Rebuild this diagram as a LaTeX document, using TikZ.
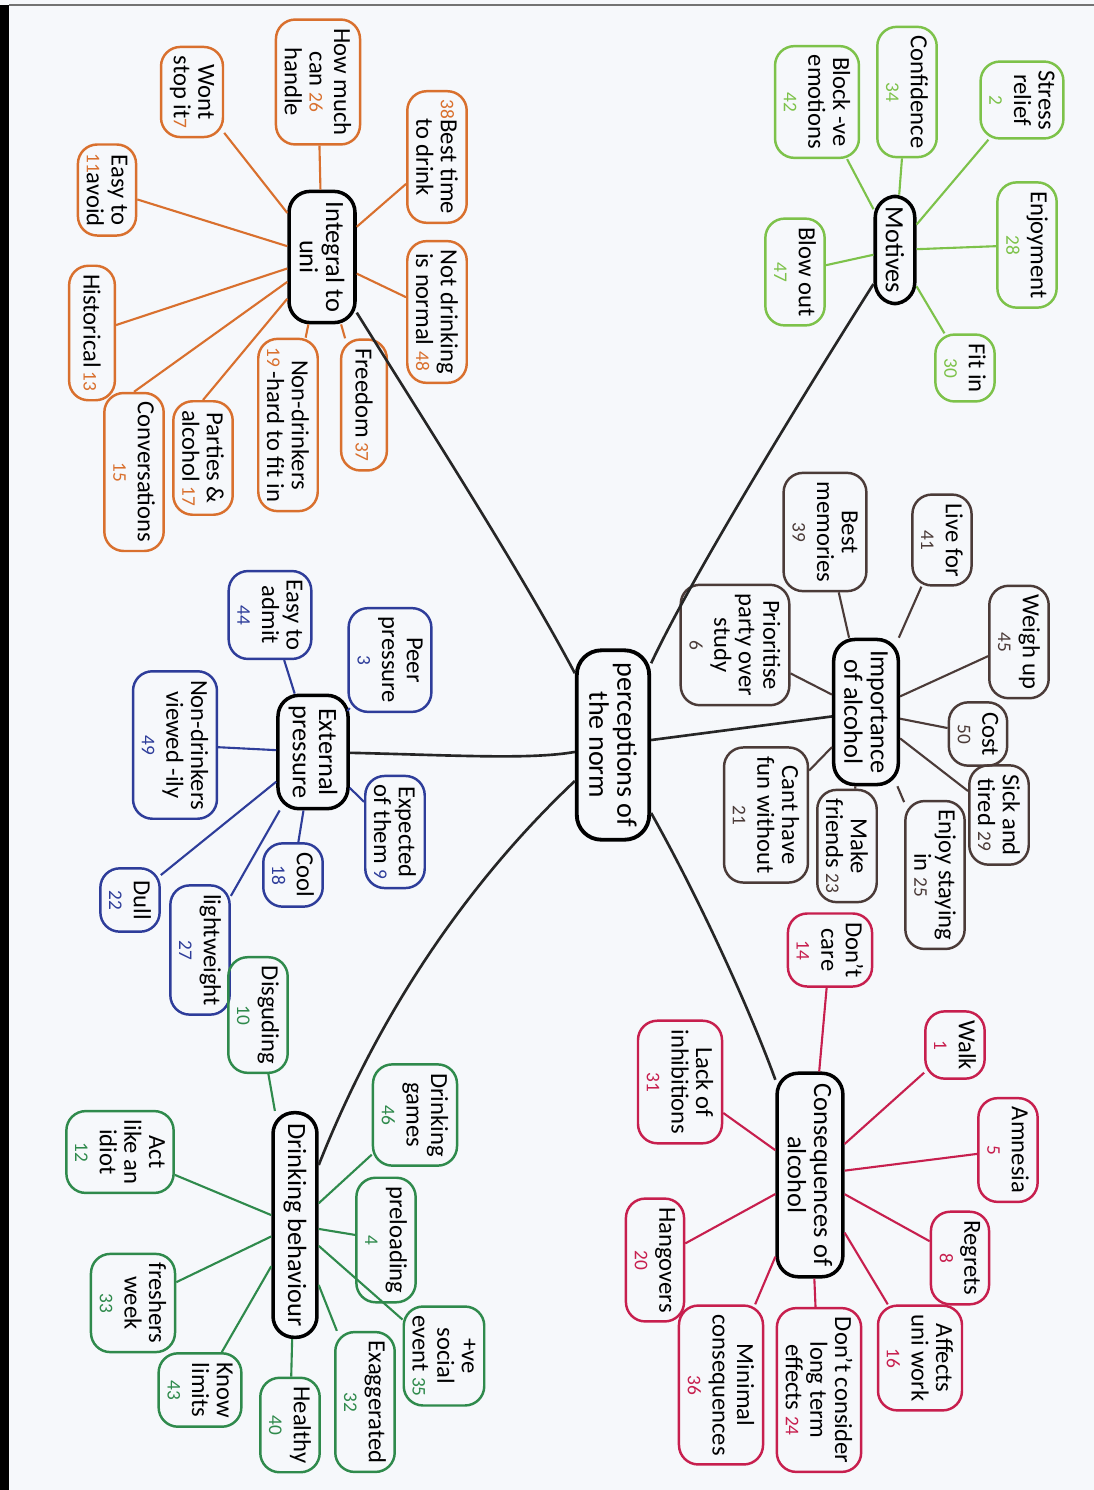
\documentclass[tikz,border=0pt]{standalone}
\usepackage{fontspec}
\setmainfont{Carlito}
\usepackage{xcolor}
\usepackage{tikz}

\definecolor{paper}{HTML}{F6F8FB}
\definecolor{unior}{HTML}{D9702E}
\definecolor{motgr}{HTML}{7DC24A}
\definecolor{impbr}{HTML}{4B3B38}
\definecolor{extbl}{HTML}{2E3D9A}
\definecolor{drkgr}{HTML}{2F8A4C}
\definecolor{conrd}{HTML}{C71F4E}

\newcommand{\numU}[1]{{\color{unior}\fontsize{5.5}{6}\selectfont #1}}
\newcommand{\numM}[1]{{\color{motgr}\fontsize{5.5}{6}\selectfont #1}}
\newcommand{\numI}[1]{{\color{impbr}\fontsize{5.5}{6}\selectfont #1}}
\newcommand{\numE}[1]{{\color{extbl}\fontsize{5.5}{6}\selectfont #1}}
\newcommand{\numD}[1]{{\color{drkgr}\fontsize{5.5}{6}\selectfont #1}}
\newcommand{\numC}[1]{{\color{conrd}\fontsize{5.5}{6}\selectfont #1}}

\begin{document}
\begin{tikzpicture}[x=0.01cm, y=-0.01cm,
  every node/.style={rotate=-90, align=center, font=\fontsize{7}{7}\selectfont},
  norm/.style={draw=black, line width=1.1pt, rounded corners=7pt, inner sep=3.5pt, font=\fontsize{8}{8}\selectfont},
  hub/.style={draw=black, line width=1pt, rounded corners=6pt, inner sep=3pt, font=\fontsize{7.5}{7.5}\selectfont},
  leaf/.style={draw=#1, line width=0.7pt, rounded corners=5.5pt, inner sep=2.5pt, minimum height=13pt, minimum width=18pt},
  trunk/.style={draw=black!85, line width=0.75pt},
  twig/.style={draw=#1, line width=0.6pt}]
% Paper
\useasboundingbox (0,0) rectangle (1094,1490);
\fill[paper] (0,0) rectangle (1094,1490);
\fill[black] (0,5) rectangle (9,1490);
\draw[black!55, line width=0.4pt] (9,5) -- (1094,5);

% Hubs
\node[norm] (norm) at (613,745) {perceptions of\\the norm};
\node[hub] (uni) at (322,257) {Integral to\\uni};
\node[hub] (mot) at (895,250) {Motives};
\node[hub] (imp) at (866,712) {Importance\\of alcohol};
\node[hub] (ext) at (313,752) {External\\pressure};
\node[hub] (beh) at (295,1225) {Drinking behaviour};
\node[hub] (con) at (810,1175) {Consequences of\\alcohol};

% Integral to uni
\node[leaf=unior] (u1) at (318,82) {How much\\can \numU{26}\\handle};
\node[leaf=unior] (u2) at (192,92) {Wont\\stop it\numU{7}};
\node[leaf=unior] (u3) at (437,157) {\numU{38}Best time\\to drink};
\node[leaf=unior] (u4) at (107,190) {Easy to\\\numU{11}avoid};
\node[leaf=unior] (u5) at (437,312) {Not drinking\\is normal \numU{48}};
\node[leaf=unior] (u6) at (92,333) {Historical\,\numU{13}};
\node[leaf=unior] (u7) at (134,472) {Conversations\\\numU{15}};
\node[leaf=unior] (u8) at (203,458) {Parties \&\\alcohol\,\numU{17}};
\node[leaf=unior] (u9) at (288,425) {Non-drinkers\\\numU{19}\,-hard to fit in};
\node[leaf=unior] (u10) at (364,405) {Freedom\,\numU{37}};

% Motives
\node[leaf=motgr] (m1) at (1022,100) {Stress\\relief\\\numM{2}};
\node[leaf=motgr] (m2) at (907,92) {Confidence\\\numM{34}};
\node[leaf=motgr] (m3) at (817,102) {Block -ve\\emotions\\\numM{42}};
\node[leaf=motgr] (m4) at (1027,245) {Enjoyment\\\numM{28}};
\node[leaf=motgr] (m5) at (795,272) {Blow out\\\numM{47}};
\node[leaf=motgr] (m6) at (965,368) {Fit in\\\numM{30}};

% Importance of alcohol
\node[leaf=impbr] (i1) at (825,532) {Best\\memories\\\numI{39}};
\node[leaf=impbr] (i2) at (942,540) {Live for\\\numI{41}};
\node[leaf=impbr] (i3) at (735,645) {Prioritise\\party over\\study\\\numI{6}};
\node[leaf=impbr] (i4) at (1019,642) {Weigh up\\\numI{45}};
\node[leaf=impbr] (i5) at (978,734) {Cost\\\numI{50}};
\node[leaf=impbr] (i6) at (999,815) {Sick and\\tired \numI{29}};
\node[leaf=impbr] (i7) at (935,875) {Enjoy staying\\in \numI{25}};
\node[leaf=impbr] (i8) at (847,846) {Make\\friends \numI{23}};
\node[leaf=impbr] (i9) at (766,815) {Cant have\\fun without\\\numI{21}};

% External pressure
\node[leaf=extbl] (e1) at (270,615) {Easy to\\admit\\\numE{44}};
\node[leaf=extbl] (e2) at (390,660) {Peer\\pressure\\\numE{3}};
\node[leaf=extbl] (e3) at (175,745) {Non-drinkers\\viewed -ily\\\numE{49}};
\node[leaf=extbl] (e4) at (395,832) {Expected\\of them \numE{9}};
\node[leaf=extbl] (e5) at (293,875) {Cool\\\numE{18}};
\node[leaf=extbl] (e6) at (130,900) {Dull\\\numE{22}};
\node[leaf=extbl] (e7) at (200,950) {lightweight\\\numE{27}};

% Drinking behaviour
\node[leaf=drkgr] (d1) at (258,1015) {Disguding\\\numD{10}};
\node[leaf=drkgr] (d2) at (415,1115) {Drinking\\games\\\numD{46}};
\node[leaf=drkgr] (d3) at (120,1152) {Act\\like an\\idiot\\\numD{12}};
\node[leaf=drkgr] (d4) at (386,1240) {preloading\\\numD{4}};
\node[leaf=drkgr] (d5) at (133,1303) {freshers\\week\\\numD{33}};
\node[leaf=drkgr] (d6) at (444,1356) {+ve\\social\\event \numD{35}};
\node[leaf=drkgr] (d7) at (365,1402) {Exaggerated\\\numD{32}};
\node[leaf=drkgr] (d8) at (290,1425) {Healthy\\\numD{40}};
\node[leaf=drkgr] (d9) at (200,1390) {Know\\limits\\\numD{43}};

% Consequences of alcohol
\node[leaf=conrd] (c1) at (830,950) {Don't\\care\\\numC{14}};
\node[leaf=conrd] (c2) at (955,1045) {Walk\\\numC{1}};
\node[leaf=conrd] (c3) at (680,1082) {Lack of\\inhibitions\\\numC{31}};
\node[leaf=conrd] (c4) at (1008,1150) {Amnesia\\\numC{5}};
\node[leaf=conrd] (c5) at (655,1260) {Hangovers\\\numC{20}};
\node[leaf=conrd] (c6) at (960,1258) {Regrets\\\numC{8}};
\node[leaf=conrd] (c7) at (920,1358) {Affects\\uni work\\\numC{16}};
\node[leaf=conrd] (c8) at (819,1390) {Don't consider\\long term\\effects \numC{24}};
\node[leaf=conrd] (c9) at (721,1385) {Minimal\\consequences\\\numC{36}};

% Trunks
\draw[trunk] (norm) .. controls (520,570) and (430,430) .. (uni);
\draw[trunk] (norm) .. controls (690,580) and (800,400) .. (mot);
\draw[trunk] (norm) -- (imp);
\draw[trunk] (norm) .. controls (530,760) and (450,755) .. (ext);
\draw[trunk] (norm) .. controls (470,880) and (380,1010) .. (beh);
\draw[trunk] (norm) .. controls (700,900) and (750,1010) .. (con);

% Twigs
\draw[twig=unior] (uni) edge (u1) edge (u2) edge (u3) edge (u4) edge (u5)
  edge (u6) edge (u7.west) edge (u8.west) edge (u9) edge (u10);
\draw[twig=motgr] (mot) edge (m1) edge (m2) edge (m3) edge (m4) edge (m5) edge (m6);
\draw[twig=impbr] (imp) edge (i1) edge (i2) edge (i3) edge (i4) edge (i5)
  edge (i6) edge (i7) edge (i8) edge (i9);
\draw[twig=extbl] (ext) edge (e1) edge (e2) edge (e3) edge (e4) edge (e5) edge (e6) edge (e7);
\draw[twig=drkgr] (beh) edge (d1) edge (d2) edge (d3) edge (d4) edge (d5)
  edge (d6) edge (d7) edge (d8) edge (d9);
\draw[twig=conrd] (con) edge (c1) edge (c2) edge (c3) edge (c4) edge (c5)
  edge (c6) edge (c7) edge (c8) edge (c9);
\end{tikzpicture}
\end{document}
